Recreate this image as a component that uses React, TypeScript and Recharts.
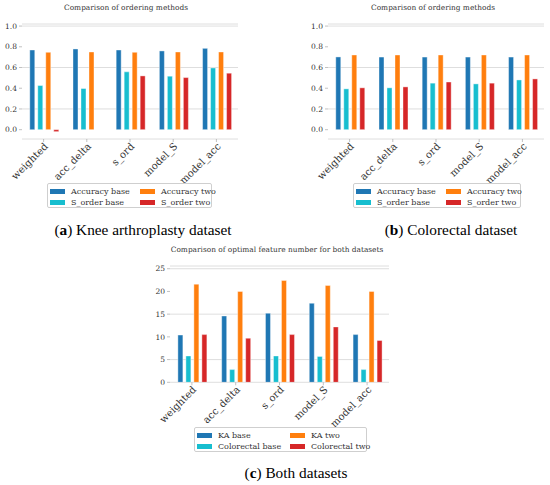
import React from "react";
import { BarChart, Bar, XAxis, YAxis, CartesianGrid } from "recharts";

const methods = ["weighted", "acc_delta", "s_ord", "model_S", "model_acc"];

// (a) Knee arthroplasty
const kneeAccBase = [0.769, 0.779, 0.769, 0.76, 0.785];
const kneeOrdBase = [0.426, 0.397, 0.558, 0.516, 0.596];
const kneeAccTwo = [0.747, 0.75, 0.747, 0.75, 0.75];
const kneeOrdTwo = [-0.019, 0, 0.519, 0.503, 0.545];

// (b) Colorectal
const colAccBase = [0.702, 0.701, 0.701, 0.701, 0.701];
const colOrdBase = [0.394, 0.404, 0.449, 0.442, 0.48];
const colAccTwo = [0.721, 0.721, 0.721, 0.721, 0.721];
const colOrdTwo = [0.404, 0.413, 0.46, 0.449, 0.49];

// (c) optimal feature number
const kaBase = [10.4, 14.6, 15.2, 17.4, 10.5];
const crBase = [5.8, 2.8, 5.8, 5.7, 2.8];
const kaTwo = [21.6, 20.0, 22.4, 21.3, 20.0];
const crTwo = [10.5, 9.7, 10.5, 12.2, 9.2];

const ratioTicks = [0, 0.2, 0.4, 0.6, 0.8, 1.0];
const countTicks = [0, 5, 10, 15, 20, 25];

const BLUE = "#1f77b4";
const CYAN = "#17becf";
const ORANGE = "#ff7f0e";
const RED = "#d62728";
const colors = [BLUE, CYAN, ORANGE, RED];

const SERIF = "'DejaVu Serif', 'Liberation Serif', serif";

function toRows(series: number[][]) {
  return methods.map((m, i) => ({
    name: m,
    s0: series[0][i],
    s1: series[1][i],
    s2: series[2][i],
    s3: series[3][i],
  }));
}

// labels rotated 45deg, right end hanging just under the tick
const RotatedTick = (props: any) => {
  const { x, y, payload } = props;
  const ax = x + 5;
  const ay = y + 3;
  return (
    <text
      x={ax}
      y={ay}
      textAnchor="end"
      transform={`rotate(-45, ${ax}, ${ay})`}
      fontSize={10}
      fontFamily={SERIF}
      fill="#333"
    >
      {payload.value}
    </text>
  );
};

interface PanelProps {
  left: number;
  top: number;
  width: number;
  height: number;
  margin: { top: number; right: number; left: number; bottom: number };
  data: any[];
  domain: [number, number];
  ticks: number[];
  fmt: (v: number) => string;
}

function Panel({ left, top, width, height, margin, data, domain, ticks, fmt }: PanelProps) {
  return (
    <div style={{ position: "absolute", left, top }}>
      <BarChart
        width={width}
        height={height}
        data={data}
        margin={margin}
        barCategoryGap="18%"
        barGap={3}
        style={{ overflow: "visible" }}
      >
        <CartesianGrid vertical={false} stroke="#d6d6d6" strokeWidth={0.8} />
        <XAxis
          dataKey="name"
          axisLine={false}
          tickSize={3}
          tickLine={{ stroke: "#999", strokeWidth: 0.6 }}
          interval={0}
          height={55}
          tick={<RotatedTick />}
        />
        <YAxis
          width={22}
          domain={domain}
          ticks={ticks}
          allowDataOverflow
          axisLine={false}
          tickSize={3}
          tickMargin={2}
          tickLine={{ stroke: "#999", strokeWidth: 0.6 }}
          tickFormatter={fmt}
          tick={{ fontSize: 7.5, fontFamily: SERIF, fill: "#333" }}
        />
        {["s0", "s1", "s2", "s3"].map((k, i) => (
          <Bar
            key={k}
            dataKey={k}
            fill={colors[i]}
            stroke="#fff"
            strokeWidth={0.4}
            isAnimationActive={false}
          />
        ))}
      </BarChart>
    </div>
  );
}

interface LegendProps {
  left: number;
  top: number;
  width: number;
  height: number;
  col2: number;
  labels: string[];
}

// legend fills column-first, like matplotlib ncol=2
function BoxLegend({ left, top, width, height, col2, labels }: LegendProps) {
  return (
    <div
      style={{
        position: "absolute",
        left,
        top,
        width,
        height,
        boxSizing: "border-box",
        border: "0.8px solid #cfcfcf",
        borderRadius: 2,
        background: "#fff",
        fontFamily: SERIF,
        fontSize: 8,
        color: "#333",
      }}
    >
      {labels.map((lab, i) => {
        const col = Math.floor(i / 2);
        const row = i % 2;
        return (
          <div
            key={lab}
            style={{
              position: "absolute",
              left: col === 0 ? 2 : col2,
              top: 3.5 + row * 11,
              display: "flex",
              alignItems: "center",
              height: 8,
              whiteSpace: "nowrap",
            }}
          >
            <span
              style={{
                display: "inline-block",
                width: 15,
                height: 4.5,
                background: colors[i],
                marginRight: 6,
              }}
            />
            {lab}
          </div>
        );
      })}
    </div>
  );
}

function Title({ x, y, text }: { x: number; y: number; text: string }) {
  return (
    <div
      style={{
        position: "absolute",
        left: x - 150,
        top: y - 5,
        width: 300,
        textAlign: "center",
        fontFamily: SERIF,
        fontSize: 7.4,
        lineHeight: "10px",
        color: "#333",
      }}
    >
      {text}
    </div>
  );
}

function Caption({ x, y, tag, text }: { x: number; y: number; tag: string; text: string }) {
  return (
    <div
      style={{
        position: "absolute",
        left: x - 150,
        top: y - 10,
        width: 300,
        textAlign: "center",
        fontFamily: "'Liberation Serif', serif",
        fontSize: 15.3,
        lineHeight: "20px",
        color: "#000",
      }}
    >
      (<b>{tag}</b>) {text}
    </div>
  );
}

const fmtRatio = (v: number) => v.toFixed(1);
const fmtCount = (v: number) => String(v);

export default function App() {
  const kneeRows = toRows([kneeAccBase, kneeOrdBase, kneeAccTwo, kneeOrdTwo]);
  const colRows = toRows([colAccBase, colOrdBase, colAccTwo, colOrdTwo]);
  const bothRows = toRows([kaBase, crBase, kaTwo, crTwo]);
  return (
    <div
      style={{
        position: "absolute",
        left: 0,
        top: 0,
        width: 550,
        height: 485,
        background: "#fff",
        overflow: "hidden",
      }}
    >
      <Title x={126} y={8} text="Comparison of ordering methods" />
      <Panel
        left={0}
        top={0}
        width={275}
        height={195}
        margin={{ top: 24, right: 37, left: 0, bottom: 1 }}
        data={kneeRows}
        domain={[-0.09, 1.02]}
        ticks={ratioTicks}
        fmt={fmtRatio}
      />
      <BoxLegend
        left={47}
        top={183}
        width={165}
        height={25}
        col2={92}
        labels={["Accuracy base", "S_order base", "Accuracy two", "S_order two"]}
      />
      <Caption x={143} y={230} tag="a" text="Knee arthroplasty dataset" />

      <Title x={433} y={8} text="Comparison of ordering methods" />
      <Panel
        left={306}
        top={0}
        width={244}
        height={195}
        margin={{ top: 24, right: 6, left: 0, bottom: 1 }}
        data={colRows}
        domain={[-0.09, 1.02]}
        ticks={ratioTicks}
        fmt={fmtRatio}
      />
      <BoxLegend
        left={353}
        top={183}
        width={168}
        height={25}
        col2={92}
        labels={["Accuracy base", "S_order base", "Accuracy two", "S_order two"]}
      />
      <Caption x={451} y={230} tag="b" text="Colorectal dataset" />

      <Title x={277} y={250} text="Comparison of optimal feature number for both datasets" />
      <Panel
        left={148}
        top={240}
        width={251}
        height={200}
        margin={{ top: 26, right: 10, left: 0, bottom: 2.7 }}
        data={bothRows}
        domain={[0, 25.6]}
        ticks={countTicks}
        fmt={fmtCount}
      />
      <BoxLegend
        left={194}
        top={427}
        width={173}
        height={25}
        col2={95}
        labels={["KA base", "Colorectal base", "KA two", "Colorectal two"]}
      />
      <Caption x={296} y={473} tag="c" text="Both datasets" />
    </div>
  );
}
